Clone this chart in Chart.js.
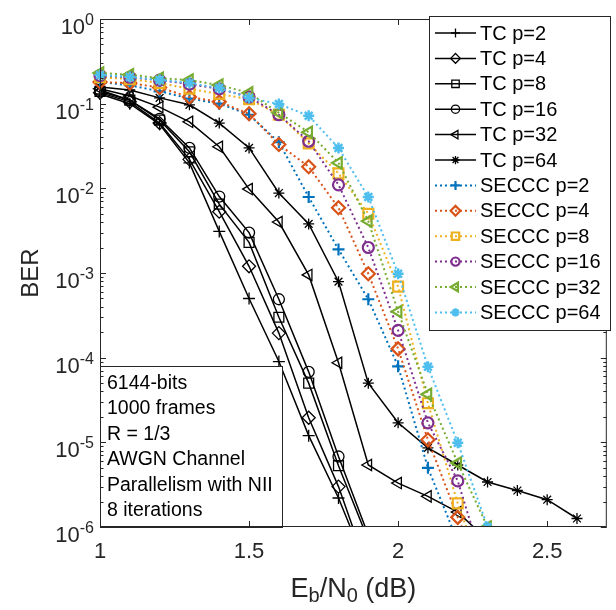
<!DOCTYPE html>
<html><head><meta charset="utf-8">
<script src="https://cdn.jsdelivr.net/npm/chart.js@4"></script>
<style>html,body{margin:0;padding:0;background:#fff}</style>
</head><body>
<canvas id="c" width="616" height="610" style="width:616px;height:610px;display:block"></canvas>
<script>
// ---- data ----
const ebno = [1.0,1.1,1.2,1.3,1.4,1.5,1.6,1.7,1.8,1.9,2.0,2.1,2.2,2.3,2.4,2.5,2.6];
const tcP2  = [0.13, 0.10, 0.057, 0.020, 3.1e-3, 5.0e-4, 9.0e-5, 1.2e-5, 2.2e-6, 3e-7];
const tcP4  = [0.135, 0.105, 0.059, 0.022, 5.3e-3, 1.2e-3, 1.95e-4, 1.95e-5, 3.0e-6, 3e-7];
const tcP8  = [0.14, 0.11, 0.064, 0.027, 6.5e-3, 2.3e-3, 3.0e-4, 5.0e-5, 5.3e-6, 7e-7];
const tcP16 = [0.145, 0.11, 0.066, 0.030, 8.0e-3, 3.0e-3, 4.9e-4, 6.8e-5, 6.8e-6, 8e-7];
const tcP32 = [0.15, 0.123, 0.091, 0.061, 0.031, 9.8e-3, 4.0e-3, 9.5e-4, 8.7e-5, 5.4e-6, 3.3e-6, 2.3e-6, 1.5e-6, 7e-7];
const tcP64 = [0.157, 0.145, 0.117, 0.097, 0.059, 0.030, 8.8e-3, 3.8e-3, 7.9e-4, 5.0e-5, 1.7e-5, 8.6e-6, 5.4e-6, 3.4e-6, 2.7e-6, 2.1e-6, 1.26e-6];
const scP2  = [0.18, 0.165, 0.14, 0.115, 0.10, 0.074, 0.035, 7.9e-3, 1.9e-3, 4.9e-4, 7.9e-5, 5.0e-6, 6.7e-7];
const scP4  = [0.18, 0.175, 0.155, 0.12, 0.105, 0.076, 0.033, 0.018, 5.9e-3, 9.8e-4, 1.27e-4, 1.07e-5, 1.3e-6, 2e-7];
const scP8  = [0.205, 0.195, 0.175, 0.15, 0.13, 0.113, 0.074, 0.034, 0.015, 5.0e-3, 6.9e-4, 2.9e-5, 1.9e-6, 2e-7];
const scP16 = [0.215, 0.205, 0.19, 0.17, 0.15, 0.12, 0.074, 0.036, 0.011, 2.0e-3, 2.1e-4, 1.7e-5, 3.5e-6, 2.5e-7];
const scP32 = [0.23, 0.22, 0.20, 0.19, 0.166, 0.134, 0.078, 0.046, 0.020, 4.1e-3, 3.5e-4, 3.7e-5, 5.7e-6, 1.0e-6];
const scP64 = [0.218, 0.207, 0.19, 0.175, 0.153, 0.117, 0.099, 0.072, 0.030, 7.9e-3, 9.8e-4, 7.8e-5, 9.9e-6, 1.0e-6];
const seriesNames = ['TC p=2','TC p=4','TC p=8','TC p=16','TC p=32','TC p=64',
  'SECCC p=2','SECCC p=4','SECCC p=8','SECCC p=16','SECCC p=32','SECCC p=64'];
const seriesData = [tcP2,tcP4,tcP8,tcP16,tcP32,tcP64,scP2,scP4,scP8,scP16,scP32,scP64];
const xTicks = [1, 1.5, 2, 2.5];
const yExponents = [0,-1,-2,-3,-4,-5,-6];
const noteLines = ['6144-bits','1000 frames','R = 1/3','AWGN Channel','Parallelism with NII','8 iterations'];

// ---- styles ----
const FONT = '"Liberation Sans", Arial, Helvetica, sans-serif';
const AX = '#262626';
const styleList = [
  {c:'#000000', dash:[], ps:'cross', rot:0, r:6, lw:1.5, mlw:1.3},
  {c:'#000000', dash:[], ps:'rectRot', rot:0, r:6.5, lw:1.5, mlw:1.3},
  {c:'#000000', dash:[], ps:'rect', rot:0, r:7, lw:1.5, mlw:1.3},
  {c:'#000000', dash:[], ps:'circle', rot:0, r:5.5, lw:1.5, mlw:1.3},
  {c:'#000000', dash:[], ps:'triangle', rot:270, r:6.5, lw:1.5, mlw:1.3},
  {c:'#000000', dash:[], ps:'star', rot:0, r:5.5, lw:1.5, mlw:1.3},
  {c:'#0072BD', dash:[2,3], ps:'cross', rot:0, r:6, lw:2, mlw:2.2},
  {c:'#D95319', dash:[2,3], ps:'rectRot', rot:0, r:6.5, lw:2, mlw:2.2},
  {c:'#EDB120', dash:[2,3], ps:'rect', rot:0, r:7, lw:2, mlw:2.2},
  {c:'#7E2F8E', dash:[2,3], ps:'circle', rot:0, r:5.5, lw:2, mlw:2.2},
  {c:'#77AC30', dash:[2,3], ps:'triangle', rot:270, r:6.5, lw:2, mlw:2.2},
  {c:'#4DBEEE', dash:[2,3], ps:'star', rot:0, r:5.5, lw:2, mlw:2.4},
];

const datasets = seriesData.map((arr, i) => {
  const s = styleList[i];
  return {
    label: seriesNames[i],
    data: arr.map((v, k) => ({x: ebno[k], y: v})),
    borderColor: s.c, backgroundColor: 'rgba(0,0,0,0)',
    borderWidth: s.lw, borderDash: s.dash, borderCapStyle: 'butt',
    pointStyle: s.ps, pointRotation: s.rot, pointRadius: s.r,
    pointBorderWidth: s.mlw, pointBorderColor: s.c, pointBackgroundColor: 'rgba(0,0,0,0)',
    pointHoverRadius: s.r, tension: 0, fill: false,
    order: 12 - i,
    clip: {left: 10, right: 10, top: 10, bottom: 0}
  };
});

function drawMarker(ctx, s, x, y, r) {
  ctx.save();
  ctx.strokeStyle = s.c; ctx.lineWidth = s.mlw; ctx.setLineDash([]);
  if (Chart.helpers && Chart.helpers.drawPoint) {
    ctx.fillStyle = 'rgba(0,0,0,0)';
    Chart.helpers.drawPoint(ctx, {pointStyle: s.ps, rotation: s.rot, radius: r, borderWidth: s.mlw}, x, y);
  }
  ctx.restore();
}

const matlabPlugin = {
  id: 'matlab',
  afterDatasetsDraw(chart) {
    const {ctx, chartArea: a, scales: {x, y}} = chart;
    ctx.save();
    // annotation box
    const bx = a.left, by = 366, bw = 282 - a.left, bh = a.bottom - 366;
    ctx.fillStyle = '#fff';
    ctx.fillRect(bx, by, bw, bh);
    ctx.strokeStyle = AX; ctx.lineWidth = 1;
    ctx.strokeRect(bx + 0.5, by + 0.5, bw, bh);
    ctx.fillStyle = '#000';
    ctx.font = '19.5px ' + FONT;
    ctx.textBaseline = 'alphabetic'; ctx.textAlign = 'left';
    noteLines.forEach((t, i) => ctx.fillText(t, a.left + 7, 389 + i * 25.4));

    // axes box
    ctx.strokeStyle = AX; ctx.lineWidth = 1;
    ctx.strokeRect(a.left + 0.5, a.top + 0.5, a.right - a.left - 1, a.bottom - a.top - 1);
    // x ticks
    ctx.beginPath();
    xTicks.forEach(v => {
      const px = Math.round(x.getPixelForValue(v)) + 0.5;
      ctx.moveTo(px, a.bottom); ctx.lineTo(px, a.bottom - 6);
      ctx.moveTo(px, a.top); ctx.lineTo(px, a.top + 6);
    });
    // y ticks (major + minor)
    yExponents.forEach(e => {
      const py = Math.round(y.getPixelForValue(Math.pow(10, e))) + 0.5;
      ctx.moveTo(a.left, py); ctx.lineTo(a.left + 6, py);
      ctx.moveTo(a.right, py); ctx.lineTo(a.right - 6, py);
      if (e < 0) {
        for (let m = 2; m <= 9; m++) {
          const pm = Math.round(y.getPixelForValue(m * Math.pow(10, e))) + 0.5;
          ctx.moveTo(a.left, pm); ctx.lineTo(a.left + 3.5, pm);
          ctx.moveTo(a.right, pm); ctx.lineTo(a.right - 3.5, pm);
        }
      }
    });
    ctx.stroke();

    // x tick labels
    ctx.fillStyle = AX;
    ctx.font = '22px ' + FONT;
    ctx.textAlign = 'center'; ctx.textBaseline = 'alphabetic';
    xTicks.forEach(v => ctx.fillText(String(v), x.getPixelForValue(v), a.bottom + 31));
    // y tick labels 10^e
    yExponents.forEach(e => {
      const py = y.getPixelForValue(Math.pow(10, e));
      const sup = e === 0 ? '0' : '-' + Math.abs(e);
      ctx.font = '16px ' + FONT;
      const sw = ctx.measureText(sup).width;
      ctx.font = '22px ' + FONT;
      const bw2 = ctx.measureText('10').width;
      const right = a.left - 6;
      ctx.textAlign = 'left';
      ctx.fillText('10', right - sw - bw2, py + 15);
      ctx.font = '16px ' + FONT;
      ctx.fillText(sup, right - sw, py + 6);
    });
    // y axis title
    ctx.save();
    ctx.translate(31, (a.top + a.bottom) / 2);
    ctx.rotate(-Math.PI / 2);
    ctx.font = '24px ' + FONT; ctx.textAlign = 'center'; ctx.textBaseline = 'middle';
    ctx.fillText('BER', 0, 0);
    ctx.restore();
    // x axis title E_b/N_0 (dB)
    const parts = [['E', 27, 0], ['b', 20, 5], ['/N', 27, 0], ['0', 20, 5], [' (dB)', 27, 0]];
    let tw = 0;
    parts.forEach(p => { ctx.font = p[1] + 'px ' + FONT; tw += ctx.measureText(p[0]).width; });
    let cx = (a.left + a.right) / 2 - tw / 2;
    ctx.textAlign = 'left';
    parts.forEach(p => {
      ctx.font = p[1] + 'px ' + FONT;
      ctx.fillText(p[0], cx, 597 + p[2]);
      cx += ctx.measureText(p[0]).width;
    });

    // legend
    const lx = 429, ly = 16, lw = 182, lh = 314;
    ctx.fillStyle = '#fff';
    ctx.fillRect(lx, ly, lw, lh);
    ctx.strokeStyle = AX; ctx.lineWidth = 1;
    ctx.strokeRect(lx + 0.5, ly + 0.5, lw - 1, lh);
    ctx.font = '20px ' + FONT; ctx.textBaseline = 'middle'; ctx.textAlign = 'left';
    seriesNames.forEach((name, i) => {
      const s = styleList[i];
      const yy = 33 + i * 25.4;
      ctx.save();
      ctx.strokeStyle = s.c; ctx.lineWidth = s.lw; ctx.setLineDash(s.dash);
      ctx.beginPath(); ctx.moveTo(435, yy); ctx.lineTo(476, yy); ctx.stroke();
      ctx.restore();
      drawMarker(ctx, s, 455.5, yy, s.r * 0.75);
      ctx.fillStyle = '#000';
      ctx.font = '20px ' + FONT; ctx.textBaseline = 'middle'; ctx.textAlign = 'left';
      ctx.fillText(name, 480, yy + 1);
    });
    ctx.restore();
  }
};

new Chart(document.getElementById('c'), {
  type: 'line',
  data: {datasets},
  options: {
    responsive: false, animation: false,
    devicePixelRatio: 1,
    layout: {padding: {left: 100, right: 6, top: 19, bottom: 83}},
    plugins: {legend: {display: false}, tooltip: {enabled: false}},
    events: [],
    scales: {
      x: {type: 'linear', min: 1, max: 2.7, display: false},
      y: {type: 'logarithmic', min: 1e-6, max: 1, display: false}
    }
  },
  plugins: [matlabPlugin]
});
</script>
</body></html>
